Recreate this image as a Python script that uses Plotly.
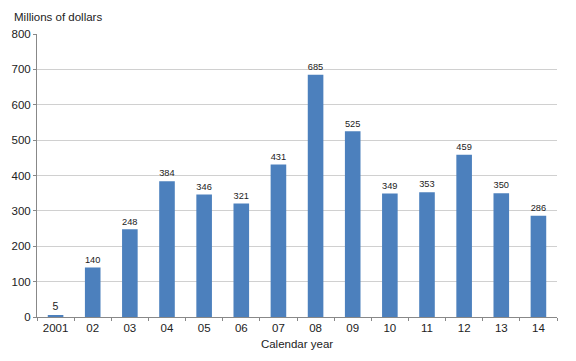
import plotly.graph_objects as go

years = ["2001", "02", "03", "04", "05", "06", "07", "08", "09", "10", "11", "12", "13", "14"]
values = [5, 140, 248, 384, 346, 321, 431, 685, 525, 349, 353, 459, 350, 286]
y_ticks = [0, 100, 200, 300, 400, 500, 600, 700, 800]

font_family = "Liberation Sans, Arial, sans-serif"

W, H = 576, 361
L, R, T, B = 35, 19, 34, 41

fig = go.Figure(go.Bar(
    x=years, y=values,
    marker=dict(color="#4c80bd", line=dict(width=0)),
    text=[str(v) for v in values],
    textposition="outside",
    textfont=dict(size=10.5, color="#222222", family=font_family),
    cliponaxis=False,
))

fig.update_layout(
    width=W, height=H,
    margin=dict(l=L, r=R, t=T, b=B),
    paper_bgcolor="white", plot_bgcolor="white",
    bargap=0.58,
    showlegend=False,
    font=dict(family=font_family, size=11.5, color="#222222"),
    annotations=[
        dict(text="Millions of dollars",
             x=(10 - L) / (W - L - R), y=1 + (T - 17) / (H - T - B),
             xref="paper", yref="paper",
             showarrow=False, xanchor="left", yanchor="middle",
             font=dict(size=11.5)),
    ],
)

fig.update_xaxes(
    type="category",
    showline=True, linecolor="#888888", linewidth=1,
    ticks="outside", tickson="boundaries", ticklen=3, tickcolor="#888888",
    showgrid=False,
    title=dict(text="Calendar year", standoff=7, font=dict(size=11.5)),
    tickfont=dict(size=11.5),
)
fig.update_yaxes(
    range=[0, 800], tickvals=y_ticks,
    showline=True, linecolor="#888888", linewidth=1,
    ticks="outside", ticklen=3, tickcolor="#888888",
    showgrid=True, gridcolor="#d0d0d0", gridwidth=1,
    zeroline=False,
    tickfont=dict(size=11.5),
)

fig.write_html("out.html", config={"displayModeBar": False},
               post_script="document.body.style.margin='0';")
